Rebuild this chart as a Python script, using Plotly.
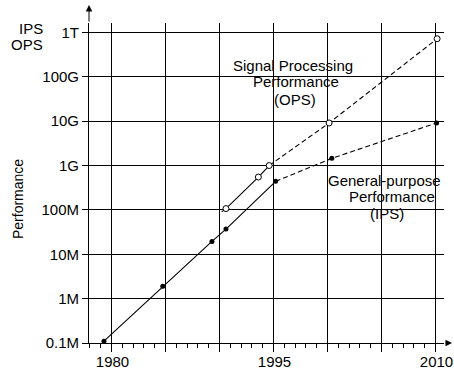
import plotly.graph_objects as go

# ---------------- data ----------------
year_ticks = [1980, 1985, 1990, 1995, 2000, 2005, 2010]
year_labels = ["1980", "", "", "1995", "", "", "2010"]
perf_ticks = [1e5, 1e6, 1e7, 1e8, 1e9, 1e10, 1e11, 1e12]
perf_labels = ["0.1M", "1M", "10M", "100M", "1G", "10G", "100G", "1T"]

# General-purpose performance (IPS), filled markers
ips_years = [1979.3, 1984.75, 1989.3, 1990.6, 1995.2, 2000.4, 2010.1]
ips_values = [1.1e5, 1.9e6, 1.95e7, 3.7e7, 4.4e8, 1.45e9, 9.1e9]
IPS_SOLID_END = 4  # last index of the solid (measured) part

# Signal processing performance (OPS), open markers
ops_years = [1990.2, 1990.6, 1993.6, 1994.6, 2000.15, 2010.15]
ops_values = [9.0e7, 1.07e8, 5.5e8, 1.0e9, 9.1e9, 7.2e11]
ops_marked = [False, True, True, True, True, True]
OPS_SOLID_END = 3

FONT = "Liberation Sans, Arial, Helvetica, sans-serif"

# ---------------- layout geometry (pixels) ----------------
W, H = 454, 371
PL, PR, PT, PB = 89, 444, 23, 343


def px_x(px):
    return (px - PL) / (PR - PL)


def px_y(py):
    return (PB - py) / (PB - PT)


fig = go.Figure()

line_style = dict(color="black", width=1.1)
dash_style = dict(color="black", width=1.1, dash="5px,3px")

fig.add_trace(go.Scatter(x=ips_years[:IPS_SOLID_END + 1], y=ips_values[:IPS_SOLID_END + 1],
                         mode="lines", line=line_style, showlegend=False, hoverinfo="skip"))
fig.add_trace(go.Scatter(x=ips_years[IPS_SOLID_END:], y=ips_values[IPS_SOLID_END:],
                         mode="lines", line=dash_style, showlegend=False, hoverinfo="skip"))
fig.add_trace(go.Scatter(x=ops_years[:OPS_SOLID_END + 1], y=ops_values[:OPS_SOLID_END + 1],
                         mode="lines", line=line_style, showlegend=False, hoverinfo="skip"))
fig.add_trace(go.Scatter(x=ops_years[OPS_SOLID_END:], y=ops_values[OPS_SOLID_END:],
                         mode="lines", line=dash_style, showlegend=False, hoverinfo="skip"))

fig.add_trace(go.Scatter(x=ips_years, y=ips_values, mode="markers",
                         marker=dict(color="black", size=5, line=dict(width=0)),
                         showlegend=False, name="IPS"))
fig.add_trace(go.Scatter(x=[x for x, m in zip(ops_years, ops_marked) if m],
                         y=[y for y, m in zip(ops_values, ops_marked) if m],
                         mode="markers",
                         marker=dict(color="white", size=6, line=dict(color="black", width=1)),
                         showlegend=False, name="OPS"))

x0 = 1980 - (111.5 - PL) / 10.8
x1 = 1980 + (PR - 111.5) / 10.8

fig.update_layout(
    template="none",
    width=W, height=H,
    margin=dict(l=PL, r=W - PR, t=PT, b=H - PB, pad=0),
    paper_bgcolor="white", plot_bgcolor="white",
    font=dict(family=FONT, size=15, color="black"),
    xaxis=dict(
        range=[x0, x1], tickmode="array", tickvals=year_ticks, ticktext=year_labels,
        showgrid=True, gridcolor="black", gridwidth=1,
        showline=True, linecolor="black", linewidth=1,
        ticks="outside", ticklen=8, tickcolor="black", tickwidth=1,
        minor=dict(dtick=1, tick0=1980, ticks="outside", ticklen=4,
                   tickcolor="black", tickwidth=1, showgrid=False),
        zeroline=False, automargin=False,
        ticklabelstandoff=-3, ticklabelshift=1, ticklabeloverflow="allow",
        tickfont=dict(size=15),
    ),
    yaxis=dict(
        type="log", range=[5, 5 + (PB - PT) / 44.37],
        tickmode="array", tickvals=perf_ticks, ticktext=perf_labels,
        showgrid=True, gridcolor="black", gridwidth=1,
        showline=True, linecolor="black", linewidth=1,
        ticks="outside", ticklen=6, tickcolor="black", tickwidth=1,
        zeroline=False, automargin=False,
        tickfont=dict(size=15),
    ),
)

# white boxes hiding gridlines behind the labels
fig.add_shape(type="rect", xref="paper", yref="paper",
              x0=px_x(232), x1=px_x(352), y0=px_y(107), y1=px_y(56),
              fillcolor="white", line=dict(width=0), layer="between")
fig.add_shape(type="rect", xref="paper", yref="paper",
              x0=px_x(325), x1=px_x(441), y0=px_y(221), y1=px_y(168),
              fillcolor="white", line=dict(width=0), layer="between")

labels = [
    ("Signal Processing", 292.8, 65.7),
    ("Performance", 296, 81.5),
    ("(OPS)", 295.3, 99),
    ("General-purpose", 384.7, 180),
    ("Performance", 392.2, 196.7),
    ("(IPS)", 387.2, 213.3),
]
for txt, cx, cy in labels:
    fig.add_annotation(text=txt, xref="paper", yref="paper", x=px_x(cx), y=px_y(cy),
                       xanchor="center", yanchor="middle", showarrow=False,
                       font=dict(size=15))

# unit labels
fig.add_annotation(text="IPS", xref="paper", yref="paper", x=px_x(45), y=px_y(28),
                   xanchor="right", yanchor="middle", showarrow=False, font=dict(size=15))
fig.add_annotation(text="OPS", xref="paper", yref="paper", x=px_x(45), y=px_y(45),
                   xanchor="right", yanchor="middle", showarrow=False, font=dict(size=15))

# axis title
fig.add_annotation(text="Performance", xref="paper", yref="paper", x=px_x(18), y=px_y(199),
                   xanchor="center", yanchor="middle", textangle=-90, showarrow=False,
                   font=dict(size=14))

# axis arrows
fig.add_annotation(text="", xref="paper", yref="paper", x=px_x(452), y=0,
                   ax=-(452 - PR), ay=0, showarrow=True, arrowhead=2, arrowsize=1.3,
                   arrowwidth=1, arrowcolor="black")
fig.add_annotation(text="", xref="paper", yref="paper", x=0, y=px_y(5),
                   ax=0, ay=(PT - 5), showarrow=True, arrowhead=2, arrowsize=1.3,
                   arrowwidth=1, arrowcolor="black")

fig.write_html("out.html", config={"displayModeBar": False},
               post_script="document.body.style.margin='0px';")
